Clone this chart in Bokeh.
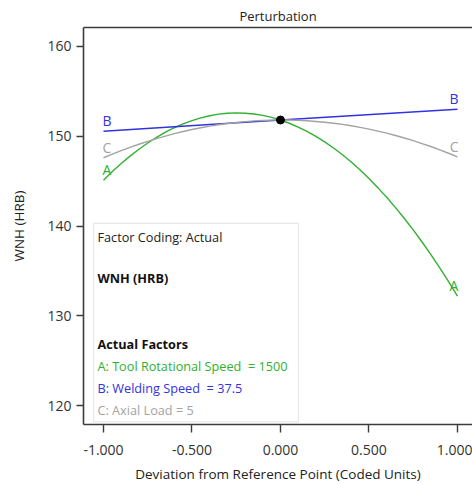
from bokeh.plotting import figure
from bokeh.models import (ColumnDataSource, Range1d, LinearAxis, FixedTicker,
                          BoxAnnotation, Label, CustomJSTickFormatter)
from bokeh.core.properties import value
from bokeh.embed import file_html
from bokeh.resources import INLINE

# ---- data ----
dev = [-1.00, -0.95, -0.90, -0.85, -0.80, -0.75, -0.70, -0.65, -0.60, -0.55, -0.50,
       -0.45, -0.40, -0.35, -0.30, -0.25, -0.20, -0.15, -0.10, -0.05, 0.00,
       0.05, 0.10, 0.15, 0.20, 0.25, 0.30, 0.35, 0.40, 0.45, 0.50,
       0.55, 0.60, 0.65, 0.70, 0.75, 0.80, 0.85, 0.90, 0.95, 1.00]
wnh_a = [145.10, 146.06, 146.95, 147.78, 148.54, 149.24, 149.87, 150.44, 150.94, 151.37, 151.74,
         152.04, 152.28, 152.45, 152.55, 152.59, 152.56, 152.47, 152.31, 152.09, 151.80,
         151.44, 151.02, 150.54, 149.98, 149.37, 148.68, 147.93, 147.12, 146.23, 145.29,
         144.27, 143.20, 142.05, 140.84, 139.57, 138.22, 136.82, 135.35, 133.80, 132.20]
wnh_c = [147.60, 148.01, 148.39, 148.76, 149.10, 149.43, 149.73, 150.01, 150.28, 150.52, 150.74,
         150.94, 151.12, 151.27, 151.41, 151.53, 151.62, 151.70, 151.75, 151.79, 151.80,
         151.80, 151.76, 151.71, 151.64, 151.55, 151.44, 151.31, 151.16, 150.98, 150.79,
         150.57, 150.34, 150.08, 149.80, 149.50, 149.18, 148.85, 148.48, 148.10, 147.70]
dev_b = [-1.0, 0.0, 1.0]
wnh_b = [150.55, 151.8, 153.0]
ref_point = (0.0, 151.8)
series_names = ["A", "B", "C"]
series_colors = ["#30b030", "#3232e0", "#a3a3a3"]
x_ticks = [-1.0, -0.5, 0.0, 0.5, 1.0]
y_ticks = [120, 130, 140, 150, 160]
info_lines = ["Factor Coding: Actual", "WNH (HRB)", "Actual Factors",
              "A: Tool Rotational Speed\u00a0 = 1500", "B: Welding Speed\u00a0 = 37.5",
              "C: Axial Load = 5"]
info_y = [138.75, 134.18, 126.83, 124.37, 121.92, 119.47]
info_bold = [False, True, True, False, False, False]
info_colors = ["#222222", "#111111", "#111111", "#30b030", "#3232e0", "#a3a3a3"]

FONT = "Open Sans"
AX = "#3c3c3c"

p = figure(width=472, height=485, output_backend="svg", toolbar_location=None,
           x_range=Range1d(-1.113, 1.085), y_range=Range1d(117.9, 162.1),
           min_border_left=83, min_border_right=0, min_border_top=27,
           min_border_bottom=61, title="Perturbation")
p.title.align = "center"
p.title.text_font = FONT
p.title.text_font_size = "13px"
p.title.text_font_style = "normal"
p.title.text_color = "#222222"
p.title.standoff = 5
p.title.offset = 0
p.outline_line_color = None
p.grid.visible = False
p.background_fill_color = "white"
p.border_fill_color = "white"

for ax in (p.xaxis[0], p.yaxis[0]):
    ax.axis_line_color = AX
    ax.axis_line_width = 1.6
    ax.major_tick_line_color = AX
    ax.major_tick_line_width = 1.4
    ax.major_tick_in = 0
    ax.minor_tick_line_color = None
    ax.major_label_text_font = FONT
    ax.major_label_text_font_size = "14px"
    ax.major_label_text_color = "#333333"
    ax.axis_label_text_font = FONT
    ax.axis_label_text_font_size = "13.5px"
    ax.axis_label_text_font_style = "normal"
    ax.axis_label_text_color = "#222222"

p.xaxis.ticker = FixedTicker(ticks=x_ticks)
p.xaxis.formatter = CustomJSTickFormatter(code="return tick.toFixed(3);")
p.xaxis.major_tick_out = 8
p.xaxis.major_label_standoff = 12
p.xaxis.axis_label = "Deviation from Reference Point (Coded Units)"
p.xaxis.axis_label_standoff = 7

p.yaxis.ticker = FixedTicker(ticks=y_ticks)
p.yaxis.major_tick_out = 7
p.yaxis.major_label_standoff = 5
p.yaxis.axis_label = "WNH (HRB)"
p.yaxis.axis_label_standoff = 16

top = LinearAxis(ticker=FixedTicker(ticks=[]), axis_line_color=AX, axis_line_width=1.6,
                 major_tick_line_color=None, minor_tick_line_color=None,
                 major_tick_out=0, major_label_standoff=0,
                 major_label_text_font_size="0px")
p.add_layout(top, "above")

# info box
box = BoxAnnotation(left=-1.056, right=0.102, top=140.3, bottom=118.2,
                    fill_color="white", fill_alpha=1.0, line_color="#b4b4b4", line_width=1.2)
p.add_layout(box)
for txt, yy, bold, col in zip(info_lines, info_y, info_bold, info_colors):
    p.add_layout(Label(x=-1.034, y=yy, text=txt, text_font=FONT, text_font_size="12.7px",
                       text_font_style="bold" if bold else "normal", text_color=col,
                       text_baseline="middle", text_align="left"))

# curves
p.line(dev, wnh_a, line_color=series_colors[0], line_width=1.4)
p.line(dev_b, wnh_b, line_color=series_colors[1], line_width=1.4)
p.line(dev, wnh_c, line_color=series_colors[2], line_width=1.4)

ends_x = [dev[0], dev_b[0], dev[0]]
ends_y = [wnh_a[0], wnh_b[0], wnh_c[0]]
ende_x = [dev[-1], dev_b[-1], dev[-1]]
ende_y = [wnh_a[-1], wnh_b[-1], wnh_c[-1]]
src_l = ColumnDataSource(dict(x=ends_x, y=ends_y, t=series_names, c=series_colors))
src_r = ColumnDataSource(dict(x=ende_x, y=ende_y, t=series_names, c=series_colors))
p.text(x="x", y="y", text="t", text_color="c", source=src_l, text_align="left",
       text_baseline="bottom", y_offset=-1, x_offset=-1, text_font=value(FONT),
       text_font_size="14px")
p.text(x="x", y="y", text="t", text_color="c", source=src_r, text_align="right",
       text_baseline="bottom", y_offset=-1, x_offset=1, text_font=value(FONT),
       text_font_size="14px")

p.scatter([ref_point[0]], [ref_point[1]], size=8, color="black")

open("out.html", "w").write(file_html(p, INLINE))
